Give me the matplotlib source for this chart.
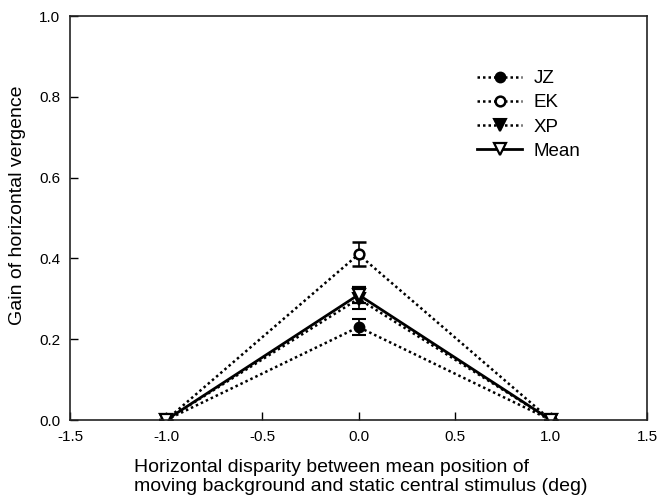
import matplotlib
matplotlib.use("Agg")
import matplotlib.pyplot as plt
from matplotlib.lines import Line2D

plt.rcParams['font.family'] = ['Liberation Sans', 'DejaVu Sans']

x = [-1.0, 0.0, 1.0]
jz = [0.0, 0.23, 0.0]
jz_err = [0.0, 0.02, 0.0]
ek = [0.0, 0.41, 0.0]
ek_err = [0.0, 0.03, 0.0]
xp = [0.0, 0.30, 0.0]
xp_err = [0.0, 0.025, 0.0]
mean = [0.0, 0.31, 0.0]
mean_err = [0.0, 0.02, 0.0]

xticks = [-1.5, -1.0, -0.5, 0.0, 0.5, 1.0, 1.5]
yticks = [0.0, 0.2, 0.4, 0.6, 0.8, 1.0]

fig = plt.figure(figsize=(6.57, 5.04), dpi=100)
ax = fig.add_axes([70/657, 1-420/504, 577/657, 404/504])

dot = (0, (1.0, 1.2))
styles = [
    dict(ls=dot, marker='o', ms=7, mfc='black', mec='black', mew=1.5, lw=1.8),
    dict(ls=dot, marker='o', ms=7, mfc='white', mec='black', mew=1.8, lw=1.8),
    dict(ls=dot, marker='v', ms=8, mfc='black', mec='black', mew=1.5, lw=1.8),
    dict(ls='-', marker='v', ms=8, mfc='white', mec='black', mew=1.6, lw=2.0),
]
series = [(jz, jz_err, 'JZ'), (ek, ek_err, 'EK'), (xp, xp_err, 'XP'), (mean, mean_err, 'Mean')]

handles = []
for (vals, err, name), st in zip(series, styles):
    ax.errorbar(x, vals, yerr=err, color='black', ecolor='black', elinewidth=1.2,
                capsize=5, capthick=1.2, **st)
    handles.append(Line2D([], [], color='black', **st))

ax.set_xlim(-1.5, 1.5)
ax.set_ylim(0, 1.0)
ax.set_xticks(xticks)
ax.set_yticks(yticks)
ax.set_xticklabels([f"{t:.1f}" for t in xticks])
ax.set_yticklabels([f"{t:.1f}" for t in yticks])
ax.tick_params(direction='in', length=6, width=1, labelsize=11, pad=7, colors='black')
for s in ax.spines.values():
    s.set_linewidth(1.2)
    s.set_color('#222222')

ax.set_ylabel('Gain of horizontal vergence', fontsize=14)
ax.yaxis.set_label_coords((26-70)/577, (420-205)/404)
fig.text(134/657, 1-477/504, 'Horizontal disparity between mean position of\nmoving background and static central stimulus (deg)',
         fontsize=14, ha='left', va='center', multialignment='left', linespacing=1.1)

ax.legend(handles, [s[2] for s in series], loc='upper left',
          bbox_to_anchor=((477-70)/577, (420-70)/404), frameon=False, borderpad=0, borderaxespad=0,
          fontsize=13.5, handlelength=2.4, numpoints=1, labelspacing=0.38, handletextpad=0.6)

fig.savefig('out.png', dpi=100)
